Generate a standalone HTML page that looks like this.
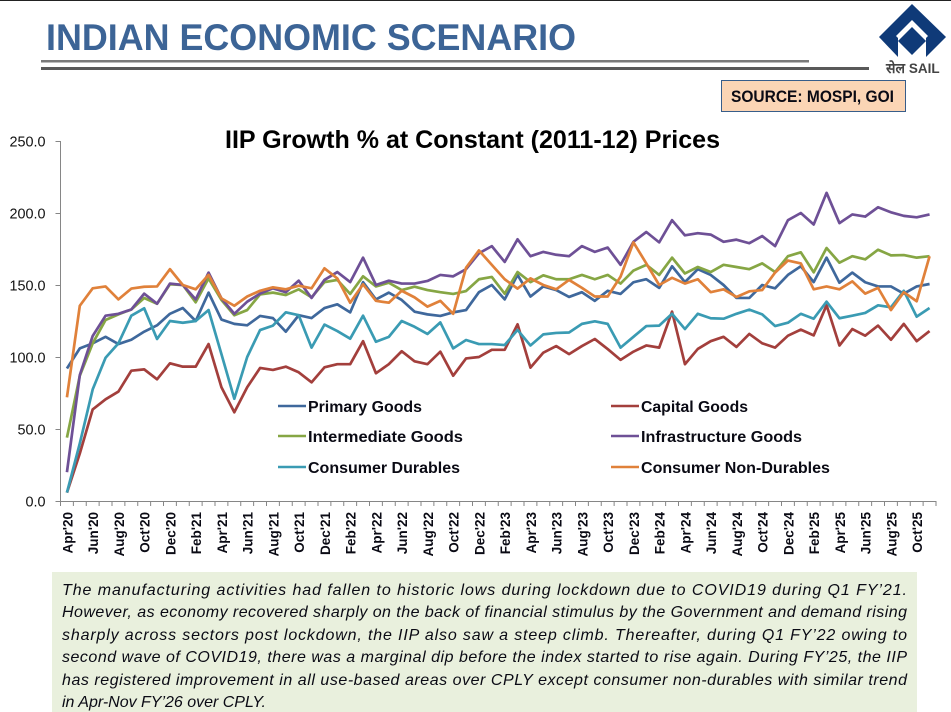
<!DOCTYPE html>
<html lang="en">
<head>
<meta charset="utf-8">
<title>IIP Growth</title>
<style>
html,body{margin:0;padding:0;background:#fff;}
body{width:951px;height:712px;overflow:hidden;}
svg{display:block;font-family:"Liberation Sans",sans-serif;}
</style>
</head>
<body>
<svg id="page" width="951" height="712" viewBox="0 0 951 712">
  <rect x="0" y="0" width="951" height="1" fill="#222"/>
  <text x="46" y="50" font-size="37" font-weight="bold" fill="#3c6496" textLength="530" lengthAdjust="spacingAndGlyphs">INDIAN ECONOMIC SCENARIO</text>
  <rect x="41" y="60" width="768" height="2.5" fill="#7a7a7a"/>
  <rect x="41" y="67" width="828" height="3" fill="#595959"/>

  <g>
    <polygon points="912,4 946,37 926,57 898,57 879,37" fill="#0f3a78"/>
    <polygon points="912,20 928,36 926,38 926,57 898,57 898,38 896,36" fill="#fff"/>
    <polygon points="912,27 926,41 912,55 898,41" fill="#0f3a78"/>
    <text x="886" y="73" font-size="14" font-weight="bold" fill="#444" font-family="'Liberation Sans','DejaVu Sans',sans-serif">सेल <tspan font-size="13.5">SAIL</tspan></text>
  </g>

  <rect x="721.5" y="80.5" width="184" height="31" fill="#fbd5b5" stroke="#385d8a" stroke-width="1"/>
  <text x="731" y="102" font-size="16.5" font-weight="bold" fill="#0a0a14" textLength="163" lengthAdjust="spacingAndGlyphs">SOURCE: MOSPI, GOI</text>

  <text x="225" y="148" font-size="25" font-weight="bold" fill="#000" textLength="495" lengthAdjust="spacingAndGlyphs">IIP Growth % at Constant (2011-12) Prices</text>

  <g id="chart"></g>

  <g>
    <g>
      <line x1="278" x2="306" y1="406" y2="406" stroke="#3f689c" stroke-width="2.6"/>
      <text x="308" y="412" font-size="15.5" font-weight="bold" fill="#0a0a14" textLength="114" lengthAdjust="spacingAndGlyphs">Primary Goods</text>
    </g>
    <g>
      <line x1="278" x2="306" y1="436" y2="436" stroke="#86a644" stroke-width="2.6"/>
      <text x="308" y="442" font-size="15.5" font-weight="bold" fill="#0a0a14" textLength="155" lengthAdjust="spacingAndGlyphs">Intermediate Goods</text>
    </g>
    <g>
      <line x1="278" x2="306" y1="467" y2="467" stroke="#3a9bb3" stroke-width="2.6"/>
      <text x="308" y="473" font-size="15.5" font-weight="bold" fill="#0a0a14" textLength="152" lengthAdjust="spacingAndGlyphs">Consumer Durables</text>
    </g>
    <g>
      <line x1="611" x2="639" y1="406" y2="406" stroke="#a33f3c" stroke-width="2.6"/>
      <text x="641" y="412" font-size="15.5" font-weight="bold" fill="#0a0a14" textLength="107" lengthAdjust="spacingAndGlyphs">Capital Goods</text>
    </g>
    <g>
      <line x1="611" x2="639" y1="436" y2="436" stroke="#6e5096" stroke-width="2.6"/>
      <text x="641" y="442" font-size="15.5" font-weight="bold" fill="#0a0a14" textLength="161" lengthAdjust="spacingAndGlyphs">Infrastructure Goods</text>
    </g>
    <g>
      <line x1="611" x2="639" y1="467" y2="467" stroke="#e0813a" stroke-width="2.6"/>
      <text x="641" y="473" font-size="15.5" font-weight="bold" fill="#0a0a14" textLength="189" lengthAdjust="spacingAndGlyphs">Consumer Non-Durables</text>
    </g>
  </g>

  <g>
    <rect x="52" y="572" width="865" height="140" fill="#e9f0dd"/>
    <g font-size="16" font-style="italic" fill="#0a0a14">
      <text x="62" y="595" textLength="845" lengthAdjust="spacing">The manufacturing activities had fallen to historic lows during lockdown due to COVID19 during Q1 FY’21.</text>
      <text x="62" y="617" textLength="845" lengthAdjust="spacing">However, as economy recovered sharply on the back of financial stimulus by the Government and demand rising</text>
      <text x="62" y="640" textLength="845" lengthAdjust="spacing">sharply across sectors post lockdown, the IIP also saw a steep climb. Thereafter, during Q1 FY’22 owing to</text>
      <text x="62" y="662" textLength="845" lengthAdjust="spacing">second wave of COVID19, there was a marginal dip before the index started to rise again. During FY’25, the IIP</text>
      <text x="62" y="685" textLength="845" lengthAdjust="spacing">has registered improvement in all use-based areas over CPLY except consumer non-durables with similar trend</text>
      <text x="62" y="707" textLength="204" lengthAdjust="spacing">in Apr-Nov FY’26 over CPLY.</text>
    </g>
  </g>
</svg>
<script>
const categories = ["Apr'20","May'20","Jun'20","Jul'20","Aug'20","Sep'20","Oct'20","Nov'20","Dec'20","Jan'21","Feb'21","Mar'21",
"Apr'21","May'21","Jun'21","Jul'21","Aug'21","Sep'21","Oct'21","Nov'21","Dec'21","Jan'22","Feb'22","Mar'22",
"Apr'22","May'22","Jun'22","Jul'22","Aug'22","Sep'22","Oct'22","Nov'22","Dec'22","Jan'23","Feb'23","Mar'23",
"Apr'23","May'23","Jun'23","Jul'23","Aug'23","Sep'23","Oct'23","Nov'23","Dec'23","Jan'24","Feb'24","Mar'24",
"Apr'24","May'24","Jun'24","Jul'24","Aug'24","Sep'24","Oct'24","Nov'24","Dec'24","Jan'25","Feb'25","Mar'25",
"Apr'25","May'25","Jun'25","Jul'25","Aug'25","Sep'25","Oct'25","Nov'25"];
const yTicks = [0, 50, 100, 150, 200, 250];
const primaryGoods = [92,106,109.5,114,109,112,117.6,122,130,134,125,144.7,126,123,122,128.5,127,117.6,129,127,134,136.6,131,152,140,144.7,139.6,131.5,129.6,128.5,131,132.6,145,150,140,157,142,149,146.5,141.7,145,139,146,143.8,151.9,154,148,163,152,161,157,150,141,141,150,147.7,157,163,152,169,151.6,158.6,151.9,149,149,144,149,150.7];
const capitalGoods = [5.8,33,63.6,70.6,76,90.5,91.4,84.5,95.6,93.3,93.3,109,79,61.6,79,92.4,91,93.3,89.4,82.4,92.8,95,95,111,88.7,95,104,97,95,103.7,87,99,100,105,105,122.7,92.6,103,107.6,102,107.6,112.5,105.5,98,103.7,108,106.5,131.5,95,105.6,111,114,107,116,109.5,106.5,114.8,119,115,136,108,119.4,114.8,121.8,112,123,111,118];
const intermediateGoods = [44,87,109.5,125.7,129.6,133,141,137,150.5,150,138,154.6,139.6,129,132.6,143.5,144.7,143,147,141.4,152,153.5,143.8,156,149,151.6,146.5,148.8,146.5,145,143.8,145.8,154,155.6,144,159,152,156.7,154,154,157,154,157,151,160,164,157,169,158,162.5,159,164,162.5,161,165,159,170,172.7,158.8,175.7,165.5,170,167.8,174.5,170.6,170.8,169,170];
const infrastructureGoods = [20,87.5,114.6,128.7,130,133,144,137,151,150,140,158.6,140.7,130,138.4,144,147.7,145,153,141,153.5,159,152,169,150,153,151,151,152.8,157,156,161,172,177,166,181.7,170,173,171,170,177,173,176,164,180,186.8,179.6,195,184.5,186,185,180,181.5,179,184,177,195,200,192,214,193,199,197.5,204,200.5,198,197,199];
const consumerDurables = [5.8,40,77.5,99.5,109.5,128.7,133.8,112.5,125,123.8,125,132.6,102,71,100,118.7,121.8,131,129,106.5,122.5,118,112.7,128.7,110.6,114,125,121,116,124,106,111.8,109,109,108.3,118.8,108,115.7,116.7,117,123,124.8,123,106.5,114,121.5,121.8,130,119.4,130,126.9,126.6,130,132.9,129.6,121.5,123.8,130,126.6,138.4,126.9,128.7,130.6,135.9,134.5,146,128,134];
const consumerNonDurables = [72,135.6,147.7,149,140,147.5,148.8,149,161,150,147,157,140.7,135.6,142,146,148.4,147,149.5,147.7,161.6,154.6,137.7,150.5,139,137.7,146,141.4,135,139,130,162,174,164,154,147.5,154.6,150,147,153.5,148,142,142,155.8,179.6,165,150,155,151,154,145,147,141.7,145.6,146.5,158.6,167,165,147,149,147,152.5,144,148,132.6,145,138.7,170];
const seriesNames = ["primary-goods","capital-goods","intermediate-goods","infrastructure-goods","consumer-durables","consumer-non-durables"];
const seriesValues = [primaryGoods, capitalGoods, intermediateGoods, infrastructureGoods, consumerDurables, consumerNonDurables];
const seriesColors = ["#3f689c","#a33f3c","#86a644","#6e5096","#3a9bb3","#e0813a"];

const NS = "http://www.w3.org/2000/svg";
const chart = document.getElementById("chart");
const plotLeft = 60.5, plotRight = 936, plotTop = 141, plotBottom = 501, yMax = 250;
const band = (plotRight - plotLeft) / categories.length;
function xScale(i){ return plotLeft + band * (i + 0.5); }
function yScale(v){ return plotBottom - (v / yMax) * (plotBottom - plotTop); }
function make(tag, attrs){
  const el = document.createElementNS(NS, tag);
  for (const k in attrs) el.setAttribute(k, attrs[k]);
  return el;
}
const axisColor = "#868686";

const yAxis = make("line", {x1: plotLeft, x2: plotLeft, y1: plotTop, y2: plotBottom, stroke: axisColor, "stroke-width": 1});


chart.appendChild(yAxis);

const xAxis = make("line", {x1: plotLeft, x2: plotRight, y1: plotBottom + 0.5, y2: plotBottom + 0.5, stroke: axisColor, "stroke-width": 1});


chart.appendChild(xAxis);

yTicks.forEach(function(v){
  const y = yScale(v);
  const tick = make("line", {x1: plotLeft - 5, x2: plotLeft, y1: y + 0.5, y2: y + 0.5, stroke: axisColor, "stroke-width": 1});
  
  
  chart.appendChild(tick);
  const label = make("text", {x: 45.5, y: y + 5.5, "text-anchor": "end", "font-size": 14.4, fill: "#111"});
  label.textContent = v.toFixed(1);
  
  
  chart.appendChild(label);
});

for (let k = 0; k <= categories.length; k++) {
  const tx = plotLeft + band * k;
  const tick = make("line", {x1: tx, x2: tx, y1: plotBottom, y2: plotBottom + 5, stroke: axisColor, "stroke-width": 1});
  
  
  chart.appendChild(tick);
}

categories.forEach(function(c, i){
  if (i % 2 !== 0) return;
  const bx = xScale(i) + 5.5, by = 512;
  const label = make("text", {x: bx, y: by, "text-anchor": "end", "font-size": 13.5, "font-weight": "bold", fill: "#0a0a14", transform: "rotate(-90 " + bx + " " + by + ")"});
  label.textContent = c;
  
  
  chart.appendChild(label);
});

seriesValues.forEach(function(vals, s){
  const d = vals.map(function(v, i){ return (i ? "L" : "M") + xScale(i).toFixed(2) + " " + yScale(v).toFixed(2); }).join(" ");
  const path = make("path", {d: d, fill: "none", stroke: seriesColors[s], "stroke-width": 2.7, "stroke-linejoin": "round", "stroke-linecap": "butt"});
  
  
  chart.appendChild(path);
});
</script>
</body>
</html>
